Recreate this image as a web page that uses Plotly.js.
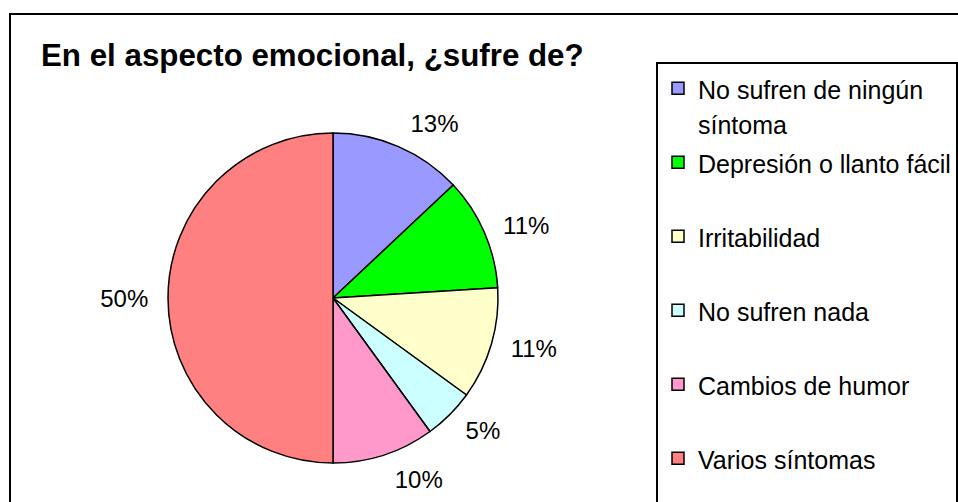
<!DOCTYPE html>
<html>
<head>
<meta charset="utf-8">
<script src="https://cdn.plot.ly/plotly-3.0.1.min.js"></script>
<style>
  html, body { margin: 0; padding: 0; overflow: hidden; background: #fff; }
  #chart { width: 958px; height: 502px; }
  #frame { position: absolute; left: 9px; top: 13px; width: 1000px; height: 600px;
           border: 2px solid #000; pointer-events: none; box-sizing: border-box; }
</style>
</head>
<body>
<div id="chart"></div>
<div id="frame"></div>
<script>
// Data
const categories = [
  "No sufren de ningún<br>síntoma",
  "Depresión o llanto fácil",
  "Irritabilidad",
  "No sufren nada",
  "Cambios de humor",
  "Varios síntomas"
];
const values = [13, 11, 11, 5, 10, 50];
const sliceColors = ["#9999FF", "#00FF00", "#FFFFCC", "#CCFFFF", "#FF99CC", "#FF8080"];
const chartTitle = "En el aspecto emocional, ¿sufre de?";

const W = 958, H = 502;
const FONT = "Arial, 'Liberation Sans', sans-serif";

// Legend labels: each entry padded to two lines so entries are evenly spaced
const legendLabels = categories.map((c) => {
  const open = '<span style="font-size:25px">';
  if (c.indexOf('<br>') >= 0) return open + c.replace('<br>', '</span><br>' + open) + '</span>';
  return open + c + '</span><br>\u00a0';
});

// pie geometry (pixels)
const CX = 333, CY = 298, R = 165, LABEL_GAP = 13;

const pieTrace = {
  type: 'pie',
  labels: legendLabels,
  values: values,
  sort: false,
  direction: 'clockwise',
  rotation: 0,
  marker: { colors: sliceColors, line: { color: '#000', width: 1.5 } },
  textinfo: 'none',
  domain: { x: [(CX - R) / W, (CX + R) / W], y: [(H - CY - R) / H, (H - CY + R) / H] },
  hoverinfo: 'label+percent'
};

// transparent companion pie (slightly larger) that carries the percentage labels
const labelTrace = {
  type: 'pie',
  labels: legendLabels,
  values: values,
  sort: false,
  direction: 'clockwise',
  rotation: 0,
  showlegend: false,
  marker: { colors: sliceColors.map(() => 'rgba(0,0,0,0)'), line: { width: 0 } },
  textinfo: 'percent',
  texttemplate: '%{percent:.0%}',
  textposition: 'outside',
  outsidetextfont: { family: FONT, size: 24, color: '#000' },
  domain: {
    x: [(CX - R - LABEL_GAP) / W, (CX + R + LABEL_GAP) / W],
    y: [(H - CY - R - LABEL_GAP) / H, (H - CY + R + LABEL_GAP) / H]
  },
  hoverinfo: 'skip'
};

const layout = {
  width: W, height: H,
  margin: { l: 0, r: 0, t: 0, b: 0, autoexpand: false },
  paper_bgcolor: '#fff',
  plot_bgcolor: '#fff',
  font: { family: FONT, color: '#000' },
  title: {
    text: '<b>' + chartTitle + '</b>',
    font: { family: FONT, size: 31.3, color: '#000' },
    x: 41 / W, xanchor: 'left', xref: 'container',
    y: 1 - 55 / H, yanchor: 'middle', yref: 'container'
  },
  showlegend: true,
  legend: {
    x: 656 / W, xanchor: 'left',
    y: 1 - 62 / H, yanchor: 'top',
    bordercolor: '#000', borderwidth: 2,
    bgcolor: '#fff',
    font: { family: FONT, size: 27.3, color: '#000' },
    valign: 'top',
    traceorder: 'normal',
    maxheight: 700
  }
};

Plotly.newPlot('chart', [pieTrace, labelTrace], layout, { displayModeBar: false, staticPlot: true });
</script>
</body>
</html>
